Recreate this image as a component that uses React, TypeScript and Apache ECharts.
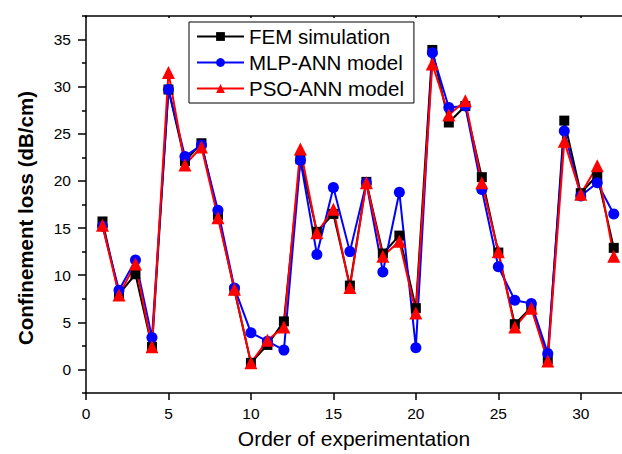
import React, { useEffect, useRef } from "react";
import * as echarts from "echarts";

const orders = [1, 2, 3, 4, 5, 6, 7, 8, 9, 10, 11, 12, 13, 14, 15, 16, 17, 18, 19, 20, 21, 22, 23, 24, 25, 26, 27, 28, 29, 30, 31, 32];
const femValues = [15.7, 8.0, 10.1, 2.4, 29.7, 22.1, 24.0, 16.4, 8.4, 0.7, 2.6, 5.1, 22.3, 14.6, 16.5, 8.9, 19.9, 12.3, 14.2, 6.5, 33.9, 26.2, 27.95, 20.4, 12.4, 4.8, 6.6, 1.1, 26.4, 18.7, 20.6, 12.9];
const mlpValues = [15.2, 8.4, 11.6, 3.4, 29.7, 22.6, 23.8, 16.9, 8.65, 3.9, 3.0, 2.05, 22.2, 12.2, 19.3, 12.5, 19.8, 10.35, 18.8, 2.3, 33.6, 27.8, 27.95, 19.1, 10.9, 7.35, 7.0, 1.7, 25.3, 18.4, 19.8, 16.5];
const psoValues = [15.3, 7.9, 11.2, 2.4, 31.5, 21.7, 23.6, 16.1, 8.5, 0.7, 3.1, 4.5, 23.4, 14.5, 17.0, 8.7, 19.8, 12.0, 13.6, 6.0, 32.4, 27.0, 28.5, 19.8, 12.5, 4.5, 6.5, 0.9, 24.2, 18.6, 21.6, 12.0];

const xTicks = [0, 5, 10, 15, 20, 25, 30];
const yTicks = [0, 5, 10, 15, 20, 25, 30, 35];
const yMinorTicks = [-2.5, 2.5, 7.5, 12.5, 17.5, 22.5, 27.5, 32.5, 37.5];

const FONT = "'Liberation Sans', Arial, sans-serif";

export default function App() {
  const ref = useRef<HTMLDivElement>(null);
  useEffect(() => {
    if (!ref.current) return;
    const chart = echarts.init(ref.current, undefined, { renderer: "svg" });
    const pairs = (vals: number[]) => orders.map((o, i) => [o, vals[i]]);
    const lineSeries = (name: string, vals: number[], color: string, symbol: string, size: number) => ({
      name,
      type: "line",
      data: pairs(vals),
      symbol,
      symbolSize: size,
      showAllSymbol: true,
      lineStyle: { color, width: 2 },
      itemStyle: { color, borderColor: color, borderWidth: 0 },
      emphasis: { disabled: true },
      clip: false,
    });
    chart.setOption({
      animation: false,
      backgroundColor: "#ffffff",
      textStyle: { fontFamily: FONT },
      grid: { left: 86, right: 0, top: 16, bottom: 60, containLabel: false },
      legend: {
        orient: "vertical",
        left: 189,
        top: 22,
        padding: [4, 10, 4, 7],
        borderColor: "#000",
        borderWidth: 1,
        backgroundColor: "#fff",
        itemWidth: 47,
        itemHeight: 11,
        itemGap: 5,
        textStyle: { fontFamily: FONT, fontSize: 20.5, color: "#000", lineHeight: 20 },
        data: ["FEM simulation", "MLP-ANN model", "PSO-ANN model"],
      },
      graphic: [
        {
          type: "text",
          x: 25,
          y: 218,
          rotation: Math.PI / 2,
          style: {
            text: "Confinement loss (dB/cm)",
            font: "bold 20.5px 'Liberation Sans', Arial, sans-serif",
            fill: "#000",
            align: "center",
            verticalAlign: "middle",
          },
        },
      ],
      xAxis: [
        {
          type: "value",
          min: 0,
          max: 32.5,
          position: "bottom",
          name: "Order of experimentation",
          nameLocation: "middle",
          nameGap: 35,
          nameTextStyle: { fontFamily: FONT, fontSize: 21, color: "#000" },
          splitLine: { show: false },
          axisLine: { show: true, onZero: false, lineStyle: { color: "#000", width: 1.5 } },
          axisTick: { show: true, inside: false, length: 7, customValues: xTicks, lineStyle: { color: "#000", width: 1.5 } },
          axisLabel: { customValues: xTicks, margin: 12, fontFamily: FONT, fontSize: 15.5, color: "#000" },
        },
        {
          type: "value",
          min: 0,
          max: 32.5,
          position: "top",
          splitLine: { show: false },
          axisLine: { show: true, onZero: false, lineStyle: { color: "#000", width: 1.5 } },
          axisTick: { show: true, inside: true, length: 2, customValues: xTicks, lineStyle: { color: "#000", width: 1.5 } },
          axisLabel: { show: false },
        },
      ],
      yAxis: [
        {
          type: "value",
          min: -2.5,
          max: 37.5,
          position: "left",
          splitLine: { show: false },
          axisLine: { show: true, onZero: false, lineStyle: { color: "#000", width: 1.5 } },
          axisTick: { show: true, inside: false, length: 8, customValues: yTicks, lineStyle: { color: "#000", width: 1.5 } },
          axisLabel: { customValues: yTicks, margin: 15, fontFamily: FONT, fontSize: 15.5, color: "#000" },
        },
        {
          type: "value",
          min: -2.5,
          max: 37.5,
          position: "left",
          splitLine: { show: false },
          axisLine: { show: false },
          axisTick: { show: true, inside: false, length: 4, customValues: yMinorTicks, lineStyle: { color: "#000", width: 1.5 } },
          axisLabel: { show: false },
        },
      ],
      series: [
        lineSeries("FEM simulation", femValues, "#000000", "rect", 10),
        lineSeries("MLP-ANN model", mlpValues, "#0000ff", "circle", 11),
        lineSeries("PSO-ANN model", psoValues, "#ff0000", "triangle", 13),
      ],
    });
    return () => chart.dispose();
  }, []);
  return (
    <div
      ref={ref}
      style={{ position: "fixed", left: 0, top: 0, width: 622, height: 454, background: "#fff" }}
    />
  );
}
